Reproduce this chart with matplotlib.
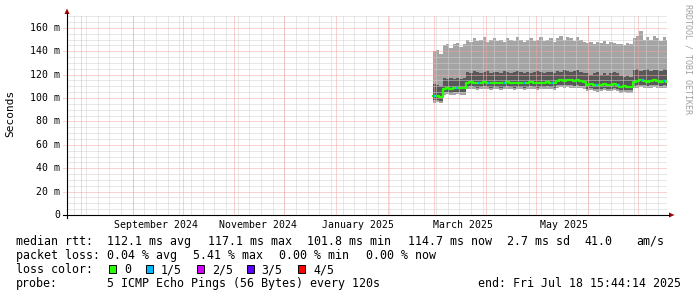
import numpy as np
import matplotlib
matplotlib.use("Agg")
import matplotlib.pyplot as plt
import matplotlib.dates as mdates
from matplotlib.lines import Line2D
from matplotlib.patches import Polygon, Rectangle

# ---- data: RTT in ms, one sample every 2 days starting 2025-02-28 ----
median_ms = [101.5, 101.5, 101,
             108, 108.5, 108, 108.5, 109, 108.5, 108.5,
             113, 113.5, 113, 112.5, 113, 113.5, 113, 112.5, 113, 113, 112.5, 113, 113.5, 113,
             112.5, 113, 113, 112.5, 113, 113.5, 113, 112.5, 113, 113, 113.5, 113, 112.5,
             114.5, 115, 114.5, 115, 115, 114.5, 115, 114.5, 114,
             111.5, 112, 111.5, 111, 111.5, 112, 111.5, 111.5, 112, 111.5,
             109.5, 110, 109.5, 109.5,
             114, 114.5, 115, 114.5, 114, 114.5, 115, 114.5, 114, 114.5, 114]
ping5_ms = [140, 141, 138,
            145, 146, 143, 146, 147, 144, 146,
            150, 148, 151, 149, 150, 152, 148, 150, 151, 149, 150, 148, 151, 150,
            149, 152, 150, 148, 150, 151, 149, 150, 152, 149, 150, 151, 148,
            151, 153, 150, 152, 151, 149, 152, 150, 148,
            147, 148, 146, 148, 147, 149, 146, 148, 147, 146,
            146, 145, 147, 146,
            151, 153, 157, 150, 152, 150, 153, 151, 149, 152, 150]
ping4_ms = [112, 111, 110,
            117, 116, 117, 116, 117, 116, 117,
            122, 121, 123, 122, 121, 122, 123, 121, 122, 122, 121, 123, 122, 121,
            122, 123, 122, 121, 122, 121, 122, 123, 122, 121, 122, 122, 121,
            123, 122, 124, 123, 122, 123, 124, 122, 121,
            121, 120, 121, 122, 120, 121, 120, 121, 122, 121,
            119, 118, 119, 118,
            124, 125, 123, 124, 125, 123, 124, 124, 123, 125, 124]
ping2_ms = [98, 98, 97.5,
            105, 105, 104.5, 105, 105.5, 105, 105,
            109.5, 110, 109.5, 109, 109.5, 110, 109.5, 109, 109.5, 109.5, 109, 109.5, 110, 109.5,
            109, 109.5, 109.5, 109, 109.5, 110, 109.5, 109, 109.5, 109.5, 110, 109.5, 109,
            111, 111.5, 111, 111.5, 111, 110.5, 111, 110.5, 110,
            108, 108.5, 108, 107.5, 108, 108.5, 108, 108, 108.5, 108,
            106.5, 107, 106.5, 106.5,
            110.5, 111, 111.5, 111, 110.5, 111, 111.5, 111, 110.5, 111, 110.5]
ping1_ms = [96, 96.5, 96,
            103, 103.5, 103, 103, 103.5, 103, 103,
            107.5, 108, 107.5, 107, 107.5, 108, 107.5, 107, 107.5, 107.5, 107, 107.5, 108, 107.5,
            107, 107.5, 107.5, 107, 107.5, 108, 107.5, 107, 107.5, 107.5, 108, 107.5, 107,
            109, 109.5, 109, 109.5, 109, 108.5, 109, 108.5, 108,
            106, 106.5, 106, 105.5, 106, 106.5, 106, 106, 106.5, 106,
            104.5, 105, 104.5, 104.5,
            108.5, 109, 109.5, 109, 108.5, 109, 109.5, 109, 108.5, 109, 108.5]
# days (from 2025-02-28) where 1/5 pings were lost
loss_days = [0, 14, 27, 33, 42, 54, 71, 98, 111, 125, 138]

ytick_vals = [0, 20, 40, 60, 80, 100, 120, 140, 160]
ytick_labels = ["0", "20 m", "40 m", "60 m", "80 m", "100 m", "120 m", "140 m", "160 m"]
month_labels = ["September 2024", "November 2024", "January 2025", "March 2025", "May 2025"]
month_label_dates = ["2024-09-15", "2024-11-15", "2025-01-14", "2025-03-18", "2025-05-18"]

loss_names = ["0", "1/5", "2/5", "3/5", "4/5"]
loss_colors = ["#26ff00", "#00b8ff", "#d400ff", "#5e00ff", "#ff0000"]

W, H = 697, 297
mono = "DejaVu Sans Mono"
end = np.datetime64("2025-07-18T15:44:14")
start = end - np.timedelta64(360, "D")
t0 = np.datetime64("2025-02-28T00:00:00")

fig = plt.figure(figsize=(W / 100, H / 100), dpi=100, facecolor="white")
ax = fig.add_axes([67 / W, (H - 215) / H, 600 / W, 200 / H])
ax.set_xlim(mdates.date2num(start), mdates.date2num(end))
ax.set_ylim(0, 171)
ax.axis("off")

# smoke + median
n = len(median_ms)
xs = t0 + np.arange(n) * np.timedelta64(2, "D")
xs = mdates.date2num(np.append(xs, end))
def ext(v):
    return np.append(v, v[-1])
ax.fill_between(xs, ext(ping1_ms), ext(ping5_ms), step="post", color="#a4a4a4", lw=0, zorder=1)
ax.fill_between(xs, ext(ping2_ms), ext(ping4_ms), step="post", color="#585858", lw=0, zorder=1.5)
ax.step(xs, ext(median_ms), where="post", color=loss_colors[0], lw=1.6, zorder=5)
for d in loss_days:
    xa = mdates.date2num(t0 + np.timedelta64(int(d * 24), "h"))
    xb = mdates.date2num(t0 + np.timedelta64(int(d * 24 + 30), "h"))
    yv = median_ms[min(int(d // 2), n - 1)]
    ax.plot([xa, xb], [yv, yv], color=loss_colors[1], lw=1.6, zorder=5.5, solid_capstyle="butt")

# grid, dotted, drawn over the smoke
xmin, xmax = ax.get_xlim()
left_ext = xmin - 4 / 600 * (xmax - xmin)
def gline(xv, yv, col, z, clip=True):
    ax.plot(xv, yv, color=col, lw=0.72, dashes=(1, 1), snap=True, zorder=z, clip_on=clip)

minor_col = "#d0d0d0"
major_col = "#f5a4a4"
for v in np.arange(5, 171, 5):
    if v % 20:
        gline([xmin, xmax], [v, v], minor_col, 3)
weeks = np.arange(np.datetime64("2024-07-28"), end, np.timedelta64(7, "D"))
for w in weeks:
    xw = mdates.date2num(w)
    gline([xw, xw], [0, 171], minor_col, 3)
months = np.arange(np.datetime64("2024-08"), np.datetime64("2025-08"), np.timedelta64(1, "M"))
for m in months:
    xm = mdates.date2num(m.astype("datetime64[D]"))
    gline([xm, xm], [0, 171], major_col, 3.5)
for v in ytick_vals[1:]:
    gline([left_ext, xmax], [v, v], major_col, 3.5, clip=False)

# tick labels
for v, lab in zip(ytick_vals, ytick_labels):
    ax.text(-7 / 600, v, lab, transform=ax.get_yaxis_transform(), ha="right", va="center",
            family=mono, fontsize=7.1)
for lab, d in zip(month_labels, month_label_dates):
    ax.text(mdates.date2num(np.datetime64(d)), -12.7 / 200, lab, transform=ax.get_xaxis_transform(),
            ha="center", va="baseline", family=mono, fontsize=7.1)

def fx(x):
    return x / W
def fy(y):
    return 1 - y / H

# axes and arrows
fig.add_artist(Line2D([fx(67), fx(67)], [fy(218), fy(13)], color="black", lw=0.8))
fig.add_artist(Line2D([fx(63), fx(669)], [fy(215), fy(215)], color="black", lw=0.8))
fig.add_artist(Polygon([(fx(67), fy(8.5)), (fx(64.5), fy(14)), (fx(69.5), fy(14))], closed=True,
                       color="#a00000", lw=0))
fig.add_artist(Polygon([(fx(674.5), fy(215)), (fx(669), fy(212.5)), (fx(669), fy(217.5))], closed=True,
                       color="#a00000", lw=0))

fig.text(fx(10.5), fy(113), "Seconds", rotation=90, ha="center", va="center", family=mono, fontsize=8)
fig.text(fx(688), fy(4), "RRDTOOL / TOBI OETIKER", rotation=270, ha="center", va="top",
         family=mono, fontsize=6, color="#a0a0a0")

# legend
fs = 8.4
line1 = [(16, "median rtt:"), (107, "112.1 ms avg"), (208, "117.1 ms max"), (307, "101.8 ms min"),
         (408, "114.7 ms now"), (507, "2.7 ms sd"), (584, "41.0"), (636, "am/s")]
line2 = [(16, "packet loss:"), (107, "0.04 % avg"), (193, "5.41 % max"), (279, "0.00 % min"),
         (366, "0.00 % now")]
line4 = [(16, "probe:"), (107, "5 ICMP Echo Pings (56 Bytes) every 120s"),
         (478, "end: Fri Jul 18 15:44:14 2025")]
for row, base in ((line1, 244.7), (line2, 259), (line4, 287.3)):
    for x, s in row:
        fig.text(fx(x), fy(base), s, ha="left", va="baseline", family=mono, fontsize=fs)
fig.text(fx(16), fy(273.3), "loss color:", ha="left", va="baseline", family=mono, fontsize=fs)
sq_x = [109, 145.7, 196.7, 246.7, 298.3]
for x, name, col in zip(sq_x, loss_names, loss_colors):
    fig.add_artist(Rectangle((fx(x), fy(272.5)), 7 / W, 7.5 / H, facecolor=col, edgecolor="black", lw=0.7))
    fig.text(fx(x + 15), fy(273.3), name, ha="left", va="baseline", family=mono, fontsize=fs)

fig.savefig("out.png", dpi=100, facecolor="white")
